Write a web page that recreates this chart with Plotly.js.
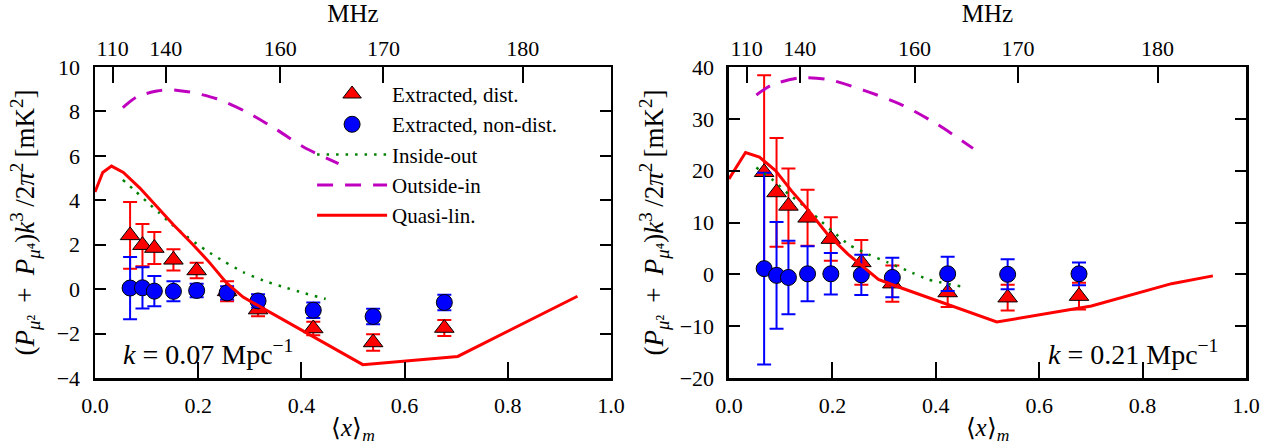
<!DOCTYPE html>
<html>
<head>
<meta charset="utf-8">
<script src="https://cdn.plot.ly/plotly-3.0.1.min.js"></script>
<style>html,body{margin:0;padding:0;background:#fff;}#chart{width:1268px;height:445px;}</style>
</head>
<body>
<div id="chart"></div>
<script>
// ---- data ----
const xm = [0.068, 0.092, 0.115, 0.152, 0.197, 0.256, 0.316, 0.423, 0.539, 0.677];

// k = 0.07
const distA = [2.42, 1.98, 1.85, 1.32, 0.84, -0.10, -0.92, -1.77, -2.40, -1.75];
const distAerr = [1.5, 0.95, 0.72, 0.48, 0.35, 0.45, 0.30, 0.30, 0.37, 0.36];
const ndistA = [0.05, 0.06, -0.09, -0.10, -0.06, -0.17, -0.53, -0.95, -1.23, -0.60];
const ndistAerr = [1.40, 0.93, 0.68, 0.45, 0.30, 0.30, 0.30, 0.35, 0.35, 0.35];

const inoutXA = [0.054, 0.078, 0.101, 0.125, 0.149, 0.173, 0.197, 0.223, 0.249, 0.287, 0.326, 0.362, 0.404, 0.447];
const inoutA  = [4.92, 4.42, 3.92, 3.42, 2.91, 2.46, 2.04, 1.63, 1.26, 0.77, 0.39, 0.12, -0.17, -0.44];
const outinXA = [0.054, 0.081, 0.120, 0.145, 0.184, 0.236, 0.294, 0.352, 0.404, 0.472];
const outinA  = [8.17, 8.65, 8.92, 8.98, 8.87, 8.57, 7.97, 7.18, 6.40, 5.65];
const qlinXA = [0.0, 0.015, 0.032, 0.055, 0.087, 0.120, 0.152, 0.190, 0.220, 0.255, 0.287, 0.519, 0.703, 0.935];
const qlinA  = [4.37, 5.25, 5.54, 5.25, 4.55, 3.70, 2.90, 2.00, 1.25, 0.28, -0.36, -3.40, -3.03, -0.32];

// k = 0.21
const distB = [19.7, 15.8, 13.2, 10.9, 6.8, 2.3, -1.8, -3.5, -4.5, -4.2];
const distBerr = [18.7, 10.5, 7.2, 5.4, 4.2, 4.3, 3.5, 2.8, 2.5, 2.6];
const ndistB = [1.1, -0.2, -0.6, 0.1, 0.1, -0.1, -0.6, 0.1, 0.0, 0.1];
const ndistBerr = [18.5, 10.3, 7.1, 5.3, 4.0, 3.9, 3.8, 3.3, 2.9, 2.2];

const inoutXB = [0.053, 0.086, 0.115, 0.145, 0.172, 0.199, 0.234, 0.269, 0.307, 0.355, 0.385, 0.448];
const inoutB  = [20.6, 18.1, 15.5, 13.2, 10.8, 8.4, 5.6, 3.9, 2.3, 0.3, -1.0, -2.3];
const outinXB = [0.053, 0.082, 0.137, 0.191, 0.261, 0.332, 0.402, 0.472];
const outinB  = [34.6, 36.5, 37.9, 37.6, 35.5, 32.8, 29.0, 24.3];
const qlinXB = [0.0, 0.032, 0.059, 0.090, 0.121, 0.153, 0.191, 0.230, 0.289, 0.324, 0.518, 0.701, 0.856, 0.936];
const qlinB  = [18.4, 23.5, 22.6, 20.0, 16.1, 12.4, 7.7, 3.9, -1.0, -2.3, -9.2, -6.1, -1.8, -0.3];

// top axis: frequency ticks and their positions on the <x>_m scale
const mhzLabels = ['110', '140', '160', '170', '180'];
const mhzPos = [0.034, 0.137, 0.359, 0.559, 0.829];

const seriesNames = ['Extracted, dist.', 'Extracted, non-dist.', 'Inside-out', 'Outside-in', 'Quasi-lin.'];
const bottomTicks = [0, 0.2, 0.4, 0.6, 0.8, 1.0];

// ---- styles ----
const FONT = 'Liberation Serif, Times New Roman, serif';
const RED = '#ff0000', BLUE = '#0000ff', GREEN = '#008000', MAG = '#bf00bf';

function panel(xa, ya, dist, distErr, nd, ndErr, ioX, io, oiX, oi, qX, q, showLeg) {
  return [
    {x: xm, y: dist, xaxis: xa, yaxis: ya, type: 'scatter', mode: 'markers', name: seriesNames[0],
     legendgroup: 'g1', showlegend: showLeg,
     marker: {symbol: 'triangle-up', size: 17, color: RED, line: {color: '#000', width: 1}},
     error_y: {type: 'data', array: distErr, visible: true, color: RED, thickness: 2, width: 7}},
    {x: xm, y: nd, xaxis: xa, yaxis: ya, type: 'scatter', mode: 'markers', name: seriesNames[1],
     legendgroup: 'g2', showlegend: showLeg,
     marker: {symbol: 'circle', size: 16, color: BLUE, line: {color: '#000', width: 1}},
     error_y: {type: 'data', array: ndErr, visible: true, color: BLUE, thickness: 2, width: 7}},
    {x: ioX, y: io, xaxis: xa, yaxis: ya, type: 'scatter', mode: 'lines', name: seriesNames[2],
     legendgroup: 'g3', showlegend: showLeg, line: {color: GREEN, width: 2.5, dash: '2.5px,7px', shape: 'spline', smoothing: 0.6}},
    {x: oiX, y: oi, xaxis: xa, yaxis: ya, type: 'scatter', mode: 'lines', name: seriesNames[3],
     legendgroup: 'g4', showlegend: showLeg, line: {color: MAG, width: 3, dash: '16px,12px', shape: 'spline', smoothing: 0.8}},
    {x: qX, y: q, xaxis: xa, yaxis: ya, type: 'scatter', mode: 'lines', name: seriesNames[4],
     legendgroup: 'g5', showlegend: showLeg, line: {color: RED, width: 3}}
  ];
}

const traces = [].concat(
  panel('x', 'y', distA, distAerr, ndistA, ndistAerr, inoutXA, inoutA, outinXA, outinA, qlinXA, qlinA, true),
  panel('x2', 'y2', distB, distBerr, ndistB, ndistBerr, inoutXB, inoutB, outinXB, outinB, qlinXB, qlinB, false),
  [{x: mhzPos, y: [null,null,null,null,null], xaxis: 'x3', yaxis: 'y', mode: 'markers', showlegend: false, hoverinfo: 'skip'},
   {x: mhzPos, y: [null,null,null,null,null], xaxis: 'x4', yaxis: 'y2', mode: 'markers', showlegend: false, hoverinfo: 'skip'}]
);

const tickFont = {family: FONT, size: 22, color: '#000'};
const titleFont = {family: FONT, size: 25, color: '#000'};

function bottomAxis(domain, anchor) {
  return {domain: domain, anchor: anchor, range: [0, 1], tickvals: bottomTicks, tickformat: '.1f',
    ticks: 'inside', ticklen: 16, tickwidth: 2, tickcolor: '#000', showline: true, linecolor: '#000', linewidth: 2.5,
    mirror: true, showgrid: false, zeroline: false, tickfont: tickFont, ticklabelstandoff: 6,
    title: {text: '⟨<i>x</i>⟩<sub><i>m</i></sub>', font: titleFont, standoff: 8}, automargin: false};
}
function topAxis(over, anchor) {
  return {overlaying: over, anchor: anchor, side: 'top', range: [0, 1], tickvals: mhzPos, ticktext: mhzLabels,
    ticks: 'inside', ticklen: 16, tickwidth: 2, tickcolor: '#000', showline: false, showgrid: false, zeroline: false,
    tickfont: tickFont, ticklabelstandoff: 6, title: {text: 'MHz', font: titleFont, standoff: 12}, automargin: false};
}
const S = '\u2009';
const yTitle = '(<i>P</i><sub><i>μ</i>²</sub>' + S + ' + ' + S + '<i>P</i><sub><i>μ</i>⁴</sub>)<i>k</i><sup>3</sup>' + S + '/2<i>π</i><sup>2</sup>' + S + '[mK<sup>2</sup>]';
function leftAxis(range, dtick, anchor, standoff) {
  return {domain: [0, 1], anchor: anchor, range: range, dtick: dtick, tick0: 0,
    ticks: 'inside', ticklen: 11, tickwidth: 2, tickcolor: '#000', showline: true, linecolor: '#000', linewidth: 2.5,
    mirror: 'ticks', showgrid: false, zeroline: false, tickfont: tickFont, ticklabelstandoff: 8,
    title: {text: yTitle, font: {family: FONT, size: 27, color: '#000'}, standoff: standoff}, automargin: false};
}

const layout = {
  width: 1268, height: 445,
  margin: {l: 95, r: 22, t: 67, b: 67},
  paper_bgcolor: '#fff', plot_bgcolor: '#fff',
  font: {family: FONT, color: '#000'},
  xaxis: bottomAxis([0, 0.4483], 'y'),
  xaxis2: bottomAxis([0.5508, 1], 'y2'),
  xaxis3: topAxis('x', 'y'),
  xaxis4: topAxis('x2', 'y2'),
  yaxis: leftAxis([-4, 10], 2, 'x', 14),
  yaxis2: leftAxis([-20, 40], 10, 'x2', 8),
  showlegend: true,
  legend: {x: 0.1886, y: 0.978, xanchor: 'left', yanchor: 'top', bgcolor: 'rgba(0,0,0,0)', borderwidth: 0,
    font: {family: FONT, size: 21, color: '#000'}, itemwidth: 70, tracegroupgap: 0, traceorder: 'normal'},
  annotations: [
    {xref: 'x domain', yref: 'y domain', x: 0.05, y: 0.02, xanchor: 'left', yanchor: 'bottom', showarrow: false,
     text: '<i>k</i> = 0.07 Mpc<sup>−1</sup>', font: {family: FONT, size: 28, color: '#000'}},
    {xref: 'x2 domain', yref: 'y2 domain', x: 0.95, y: 0.02, xanchor: 'right', yanchor: 'bottom', showarrow: false,
     text: '<i>k</i> = 0.21 Mpc<sup>−1</sup>', font: {family: FONT, size: 28, color: '#000'}}
  ]
};

Plotly.newPlot('chart', traces, layout, {staticPlot: true, displayModeBar: false});
</script>
</body>
</html>
